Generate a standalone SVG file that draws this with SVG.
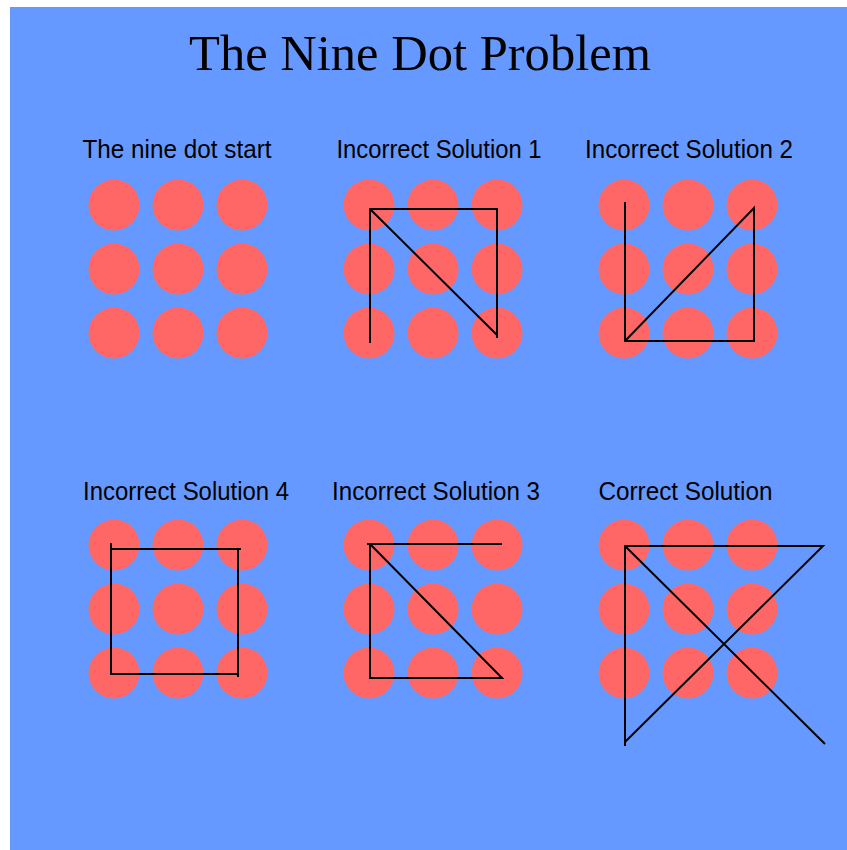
<svg xmlns="http://www.w3.org/2000/svg" width="847" height="850" viewBox="0 0 847 850">
<defs>
<style>
.dot{fill:#FF6666}
.ln{fill:none;stroke:#000;stroke-width:2;stroke-linejoin:miter}
.lbl{font-family:"Liberation Sans",Arial,sans-serif;font-size:26px;fill:#000;text-anchor:middle}
.title{font-family:"Liberation Serif","Times New Roman",serif;font-size:50px;fill:#000;text-anchor:middle}
</style>
<g id="grid">
<circle class="dot" cx="0" cy="0" r="25.5"/>
<circle class="dot" cx="64" cy="0" r="25.5"/>
<circle class="dot" cx="128" cy="0" r="25.5"/>
<circle class="dot" cx="0" cy="64" r="25.5"/>
<circle class="dot" cx="64" cy="64" r="25.5"/>
<circle class="dot" cx="128" cy="64" r="25.5"/>
<circle class="dot" cx="0" cy="128" r="25.5"/>
<circle class="dot" cx="64" cy="128" r="25.5"/>
<circle class="dot" cx="128" cy="128" r="25.5"/>
</g>
</defs>
<rect x="10" y="7" width="837" height="843" fill="#6699FF"/>
<text class="title" x="420" y="70" textLength="462" lengthAdjust="spacingAndGlyphs">The Nine Dot Problem</text>

<g id="panel-start">
<text class="lbl" x="177" y="158" textLength="189" lengthAdjust="spacingAndGlyphs">The nine dot start</text>
<use href="#grid" x="114" y="205"/>
</g>
<g id="panel-incorrect-1">
<text class="lbl" x="439" y="158" textLength="205" lengthAdjust="spacingAndGlyphs">Incorrect Solution 1</text>
<use href="#grid" x="369" y="205"/>
</g>
<g id="panel-incorrect-2">
<text class="lbl" x="689" y="158" textLength="208" lengthAdjust="spacingAndGlyphs">Incorrect Solution 2</text>
<use href="#grid" x="624" y="205"/>
</g>
<g id="panel-incorrect-4">
<text class="lbl" x="186" y="500" textLength="206" lengthAdjust="spacingAndGlyphs">Incorrect Solution 4</text>
<use href="#grid" x="114" y="545"/>
</g>
<g id="panel-incorrect-3">
<text class="lbl" x="436" y="500" textLength="208" lengthAdjust="spacingAndGlyphs">Incorrect Solution 3</text>
<use href="#grid" x="369" y="545"/>
</g>
<g id="panel-correct">
<text class="lbl" x="685.5" y="500" textLength="174" lengthAdjust="spacingAndGlyphs">Correct Solution</text>
<use href="#grid" x="624" y="545"/>
</g>

<g id="connectors">
<path class="ln" d="M370,343 L370,209 L497,209 L497,338 M370,209 L497,335"/>
<path class="ln" d="M625,202 L625,341 L754,341 L754,208 L625,341"/>
<path class="ln" d="M111,543 L111,674 L238,674 M238,677 L238,549 L241,549 M238,549 L111,549"/>
<path class="ln" d="M502,544 L367,544 M370,544 L370,678 L502,678 L370,544"/>
<path class="ln" d="M625,746 L625,546 L823,546 L625,742 M625,546 L825,744"/>
</g>
</svg>
